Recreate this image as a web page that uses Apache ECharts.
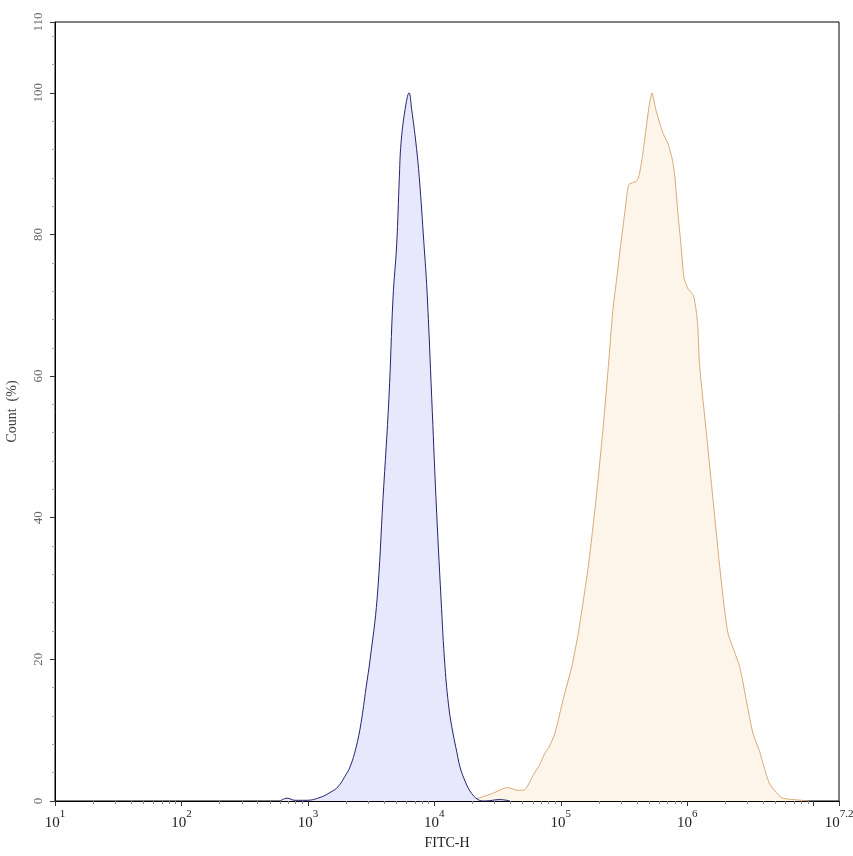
<!DOCTYPE html>
<html>
<head>
<meta charset="utf-8">
<script src="https://cdn.jsdelivr.net/npm/echarts@6/dist/echarts.min.js"></script>
<style>html,body{margin:0;padding:0;background:#fff}#c{width:853px;height:856px}</style>
</head>
<body>
<div id="c"></div>
<script>
// FITC-H intensity as log10 exponent, count in %
var blueLogX = [2.779,2.835,2.898,2.993,3.096,3.175,3.238,3.293,3.333,3.380,3.420,3.460,3.492,3.547,3.594,3.641,3.673,3.702,3.723,3.736,3.768,3.800,3.821,3.855,3.881,3.918,3.942,3.979,4.013,4.053,4.084,4.116,4.147,4.179,4.203,4.234,4.282,4.345,4.401,4.519,4.598];
var blueCount = [0,0.4,0.1,0.1,0.5,1.2,2.0,3.5,4.8,7.5,11,16,20,28.5,42.7,57,71,78.6,88,92.8,97.6,100,97.6,92.8,88,78.6,72,57,42.7,28.5,19,13,9.6,6.8,4.8,3.2,1.4,0.2,0,0.2,0];

var orangeLogX = [3.886,3.966,4.045,4.124,4.242,4.345,4.464,4.575,4.662,4.717,4.780,4.835,4.875,4.907,4.954,5.018,5.087,5.139,5.218,5.279,5.332,5.377,5.411,5.443,5.474,5.508,5.527,5.540,5.569,5.601,5.621,5.641,5.659,5.694,5.720,5.752,5.791,5.816,5.848,5.883,5.903,5.924,5.950,5.974,6.006,6.032,6.050,6.071,6.084,6.097,6.150,6.203,6.256,6.321,6.414,6.466,6.519,6.572,6.607,6.652,6.705,6.742,6.784,6.837,6.900,6.955];
var orangeCount = [0,0.2,0.5,0.1,0.1,0.4,1.1,1.9,1.5,1.6,3.6,5.2,6.8,7.6,9.6,14.3,19,23.8,33.2,42.7,52.2,61.6,69.2,73.9,78.6,83.4,86.2,87.1,87.3,87.6,88.5,90.5,92.8,97.6,100,97.6,95.2,94,92.8,90.5,88,83.4,78.6,73.9,72.3,71.8,71.3,69.2,66.9,61.6,52.2,42.7,33.2,23.8,19,14.3,9.6,7,4.8,2.4,1.2,0.5,0.3,0.2,0.1,0];

var xMajorTicks = [1,2,3,4,5,6,7,7.2];
var xLabelTicks = [1,2,3,4,5,6,7.2];
var yMajorTicks = [0,20,40,60,80,100,110];
var yMinorTicks = [4,8,12,16,24,28,32,36,44,48,52,56,64,68,72,76,84,88,92,96,104,108];

function pairs(xs, ys){ var out=[]; for(var i=0;i<xs.length;i++){ out.push([xs[i], ys[i]]); } return out; }
var xMinorTicks = [];
for (var d = 1; d <= 7; d++) { for (var k = 2; k <= 9; k++) { var v = d + Math.log10(k); if (v < 7.2) xMinorTicks.push(+v.toFixed(4)); } }

var serif = '"Liberation Serif", "DejaVu Serif", serif';
var chart = echarts.init(document.getElementById('c'));
chart.setOption({
  animation: false,
  backgroundColor: '#fff',
  grid: { left: 55, right: 14, top: 22, bottom: 55, outerBoundsMode: 'none', containLabel: false, show: true, borderColor: '#000', borderWidth: 1, backgroundColor: 'transparent' },
  xAxis: [{
    type: 'value', min: 1, max: 7.2, position: 'bottom',
    axisLine: { show: true, lineStyle: { color: '#000', width: 1 } },
    axisTick: { show: true, length: 5, customValues: xMajorTicks, lineStyle: { color: '#333' } },
    splitLine: { show: false },
    axisLabel: {
      customValues: xLabelTicks, margin: 8,
      formatter: function (v) { var e = Math.abs(v - Math.round(v)) < 1e-6 ? String(Math.round(v)) : String(+v.toFixed(1)); return '{b|10}{s|' + e + '}'; },
      rich: {
        b: { fontFamily: serif, fontSize: 15, color: '#222', lineHeight: 22, verticalAlign: 'bottom' },
        s: { fontFamily: serif, fontSize: 11, color: '#222', lineHeight: 12, verticalAlign: 'top' }
      }
    },
    name: 'FITC-H', nameLocation: 'middle', nameGap: 33,
    nameTextStyle: { fontFamily: serif, fontSize: 14, color: '#222' }
  }, {
    type: 'value', min: 1, max: 7.2, position: 'bottom',
    axisLine: { show: false },
    axisTick: { show: true, length: 3, customValues: xMinorTicks, lineStyle: { color: '#888' } },
    axisLabel: { show: false }, splitLine: { show: false }
  }],
  yAxis: [{
    type: 'value', min: 0, max: 110, position: 'left',
    axisLine: { show: true, lineStyle: { color: '#000', width: 1 } },
    axisTick: { show: true, length: 5, customValues: yMajorTicks, lineStyle: { color: '#333' } },
    splitLine: { show: false },
    axisLabel: { customValues: yMajorTicks, rotate: 90, margin: 10, fontFamily: serif, fontSize: 13, color: '#666' },
    name: 'Count  (%)', nameLocation: 'middle', nameGap: 36, nameRotate: 90,
    nameTextStyle: { fontFamily: serif, fontSize: 14, color: '#444' }
  }, {
    type: 'value', min: 0, max: 110, position: 'left',
    axisLine: { show: false },
    axisTick: { show: true, length: 3, customValues: yMinorTicks, lineStyle: { color: '#aaa' } },
    axisLabel: { show: false }, splitLine: { show: false }
  }],
  series: [{
    type: 'line', xAxisIndex: 0, yAxisIndex: 0,
    data: pairs(orangeLogX, orangeCount), showSymbol: false, smooth: 0.2,
    lineStyle: { color: '#d8aa74', width: 1 },
    areaStyle: { color: '#fdf4ea', opacity: 1 }, z: 2
  }, {
    type: 'line', xAxisIndex: 0, yAxisIndex: 0,
    data: pairs(blueLogX, blueCount), showSymbol: false, smooth: 0.4,
    lineStyle: { color: '#24246e', width: 1 },
    areaStyle: { color: '#e7e8fb', opacity: 1 }, z: 3
  }]
});
</script>
</body>
</html>
